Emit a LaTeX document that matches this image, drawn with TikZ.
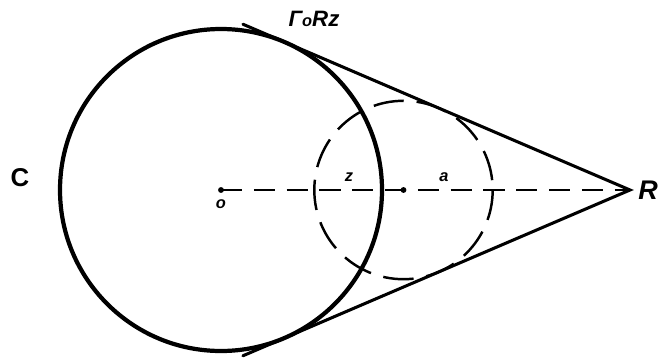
\documentclass[tikz,border=0pt]{standalone}
\usepackage{fontspec}
\setmainfont{Liberation Sans}
\begin{document}
\begin{tikzpicture}[x=0.03cm,y=-0.03cm,
  bigcirc/.style={line width=3.6pt},
  dcirc/.style={line width=2.1pt,dash pattern=on 26pt off 11pt},
  tline/.style={line width=2.6pt,line cap=round},
  axis/.style={line width=1.8pt,dash pattern=on 18pt off 10pt},
  dotc/.style={circle,fill,inner sep=0pt,minimum size=5pt},
  biglab/.style={font=\fontsize{22}{22}\selectfont\bfseries},
  smalllab/.style={font=\fontsize{14}{14}\selectfont\bfseries\itshape}]
\useasboundingbox (0,0) rectangle (665,359);
\coordinate (O) at (221,190);
\coordinate (D) at (403.5,190);
\coordinate (R) at (630,190);
\coordinate (E1) at (242.9,24.2);
\coordinate (E2) at (242.9,355.8);
% circles
\draw[bigcirc] (O) circle[radius=161];
\draw[dcirc] (D) ++(0:89.2) arc[start angle=0,end angle=360,radius=89.2];
% tangents
\draw[tline] (E1) -- (R) -- (E2);
% axis
\draw[axis] (O) -- (R);
\node[dotc] (o) at (O) {};
\node[dotc] (d) at (D) {};
% labels
\node[biglab] (C) at (20,178) {C};
\node[font=\fontsize{23}{23}\selectfont\bfseries\itshape] (Rl) at (648,190) {R};
\node[font=\fontsize{19}{19}\selectfont\bfseries\itshape] (G) at (314,19) {Γ{\fontsize{14}{14}\selectfont o}Rz};
\node[smalllab] (z) at (349,177) {z};
\node[smalllab] (a) at (444,177) {a};
\node[smalllab] (ol) at (221,204) {o};
\end{tikzpicture}
\end{document}
